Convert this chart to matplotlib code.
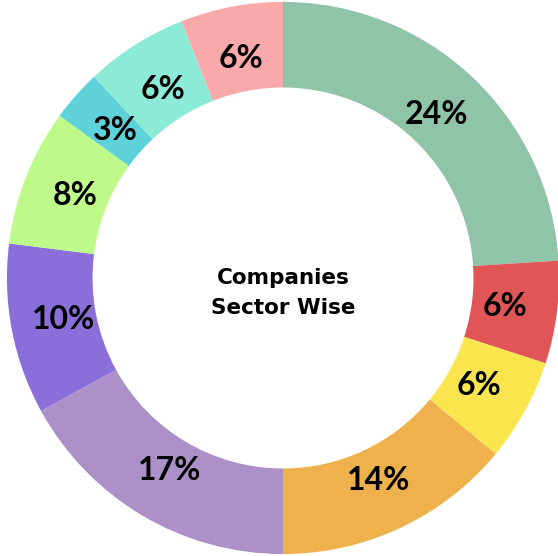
import matplotlib
matplotlib.use('Agg')
import matplotlib.pyplot as plt

# sectors, clockwise from 12 o'clock
shares = [24, 6, 6, 14, 17, 10, 8, 3, 6, 6]
labels = ['24%', '6%', '6%', '14%', '17%', '10%', '8%', '3%', '6%', '6%']
colors = ['#8FC4A9', '#E05656', '#F9E64F', '#EEB14C', '#AC91C9',
          '#8A6FDB', '#BEFA8A', '#5FD1D8', '#8CEBD6', '#F9A9A9']
center_text = 'Companies\nSector Wise'

fig = plt.figure(figsize=(5.58, 5.56), dpi=100)
ax = fig.add_axes([0, 0, 1, 1])

wedges, texts = ax.pie(shares, labels=labels, colors=colors, startangle=90,
                       counterclock=False, radius=1.0, labeldistance=0.81,
                       wedgeprops=dict(width=0.31, edgecolor='none'),
                       textprops=dict(fontsize=23, fontweight='bold', color='black',
                                      family=['Lato', 'DejaVu Sans']))
for t in texts:
    t.set_ha('center')
    t.set_va('center')

ax.text(0, -0.055, center_text, ha='center', va='center', fontsize=15.5,
        fontweight='bold', linespacing=1.65, family=['DejaVu Sans'])

ax.set_aspect('equal')
ax.set_xlim(-1.025, 0.996)
ax.set_ylim(-1.007, 1.007)
ax.axis('off')

fig.savefig('out.png', dpi=100)
